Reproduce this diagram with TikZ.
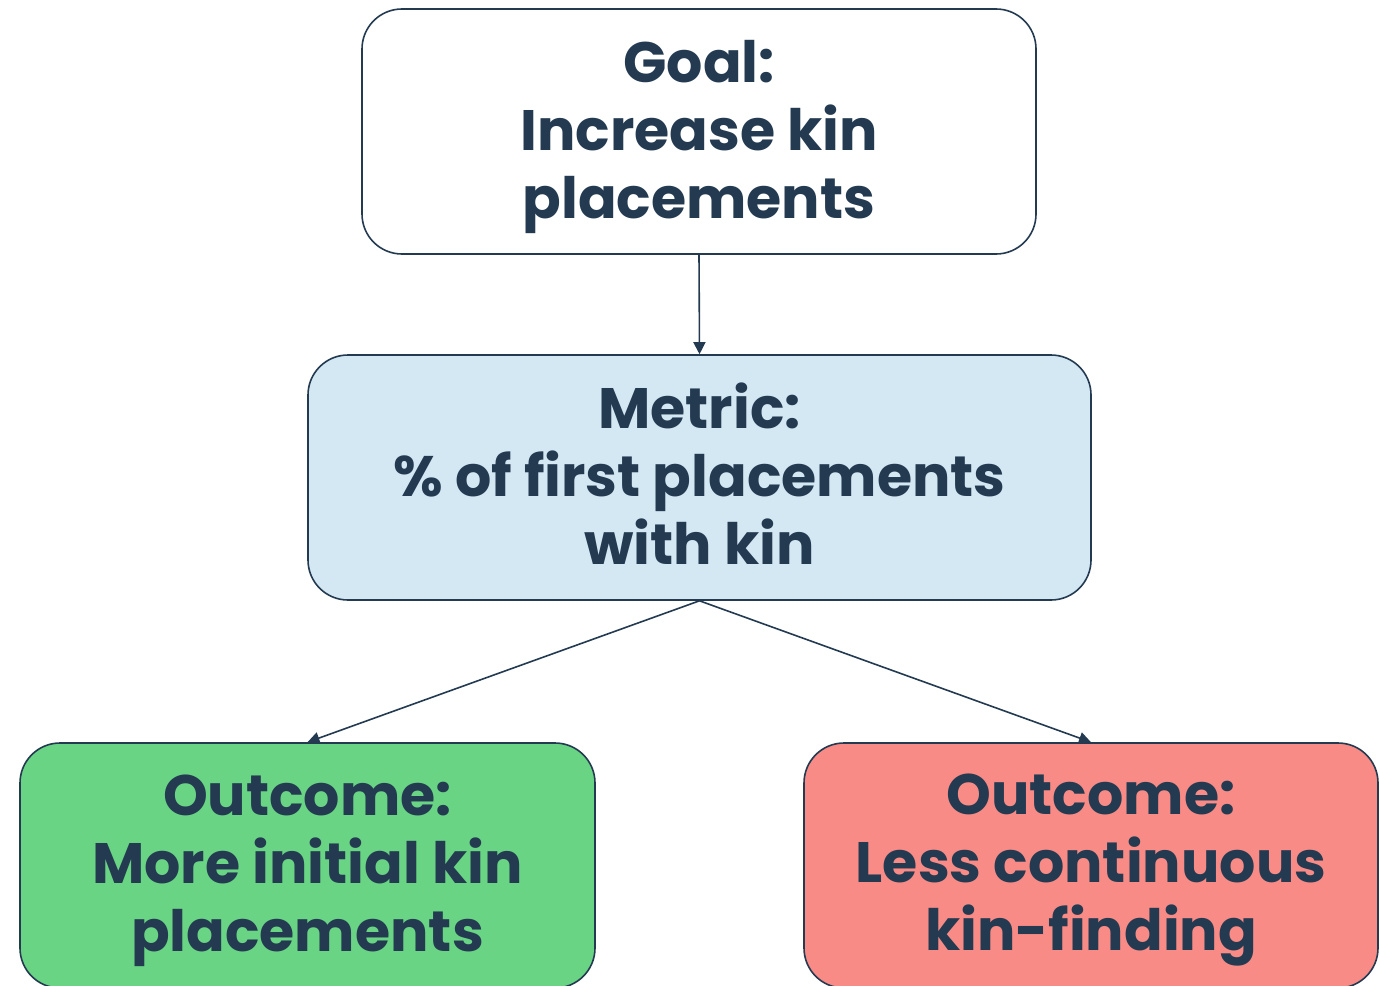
\documentclass[tikz,border=0pt]{standalone}
\usepackage{fontspec}
\setmainfont{Poppins}
\usetikzlibrary{arrows.meta}
\definecolor{ink}{HTML}{233A51}
\definecolor{bluefill}{HTML}{D4E8F4}
\definecolor{greenfill}{HTML}{69D584}
\definecolor{redfill}{HTML}{F98B86}
\begin{document}
\begin{tikzpicture}[x=1pt,y=-1pt,
  box/.style={draw=ink, line width=1.6pt, rounded corners=40pt,
    inner sep=0pt, minimum height=245pt},
  boxtext/.style={align=center, text=ink, inner sep=0pt, yshift=-5pt,
    font=\fontsize{57}{68}\selectfont\bfseries},
  conn/.style={draw=ink, line width=1.6pt, -{Triangle[length=12pt,width=12pt]}}]
\useasboundingbox (0,0) rectangle (1380,985);
\node[box, fill=white, minimum width=674pt,
  label={[boxtext]center:{Goal:\\Increase kin\\placements}}] (goal) at (699,131.5) {};
\node[box, fill=bluefill, minimum width=783pt,
  label={[boxtext, yshift=9pt]center:{Metric:\\\% of first placements\\with kin}}] (metric) at (699.5,477.5) {};
\node[box, fill=greenfill, minimum width=575pt,
  label={[boxtext]center:{Outcome:\\More initial kin\\placements}}] (more) at (307.5,865.5) {};
\node[box, fill=redfill, minimum width=574pt,
  label={[boxtext]center:{Outcome:\\Less continuous\\kin-finding}}] (less) at (1091,865.5) {};
\draw[conn] (goal.south) -- (metric.north);
\draw[conn] (metric.south) -- (more.north);
\draw[conn] (metric.south) -- (less.north);
\end{tikzpicture}
\end{document}
